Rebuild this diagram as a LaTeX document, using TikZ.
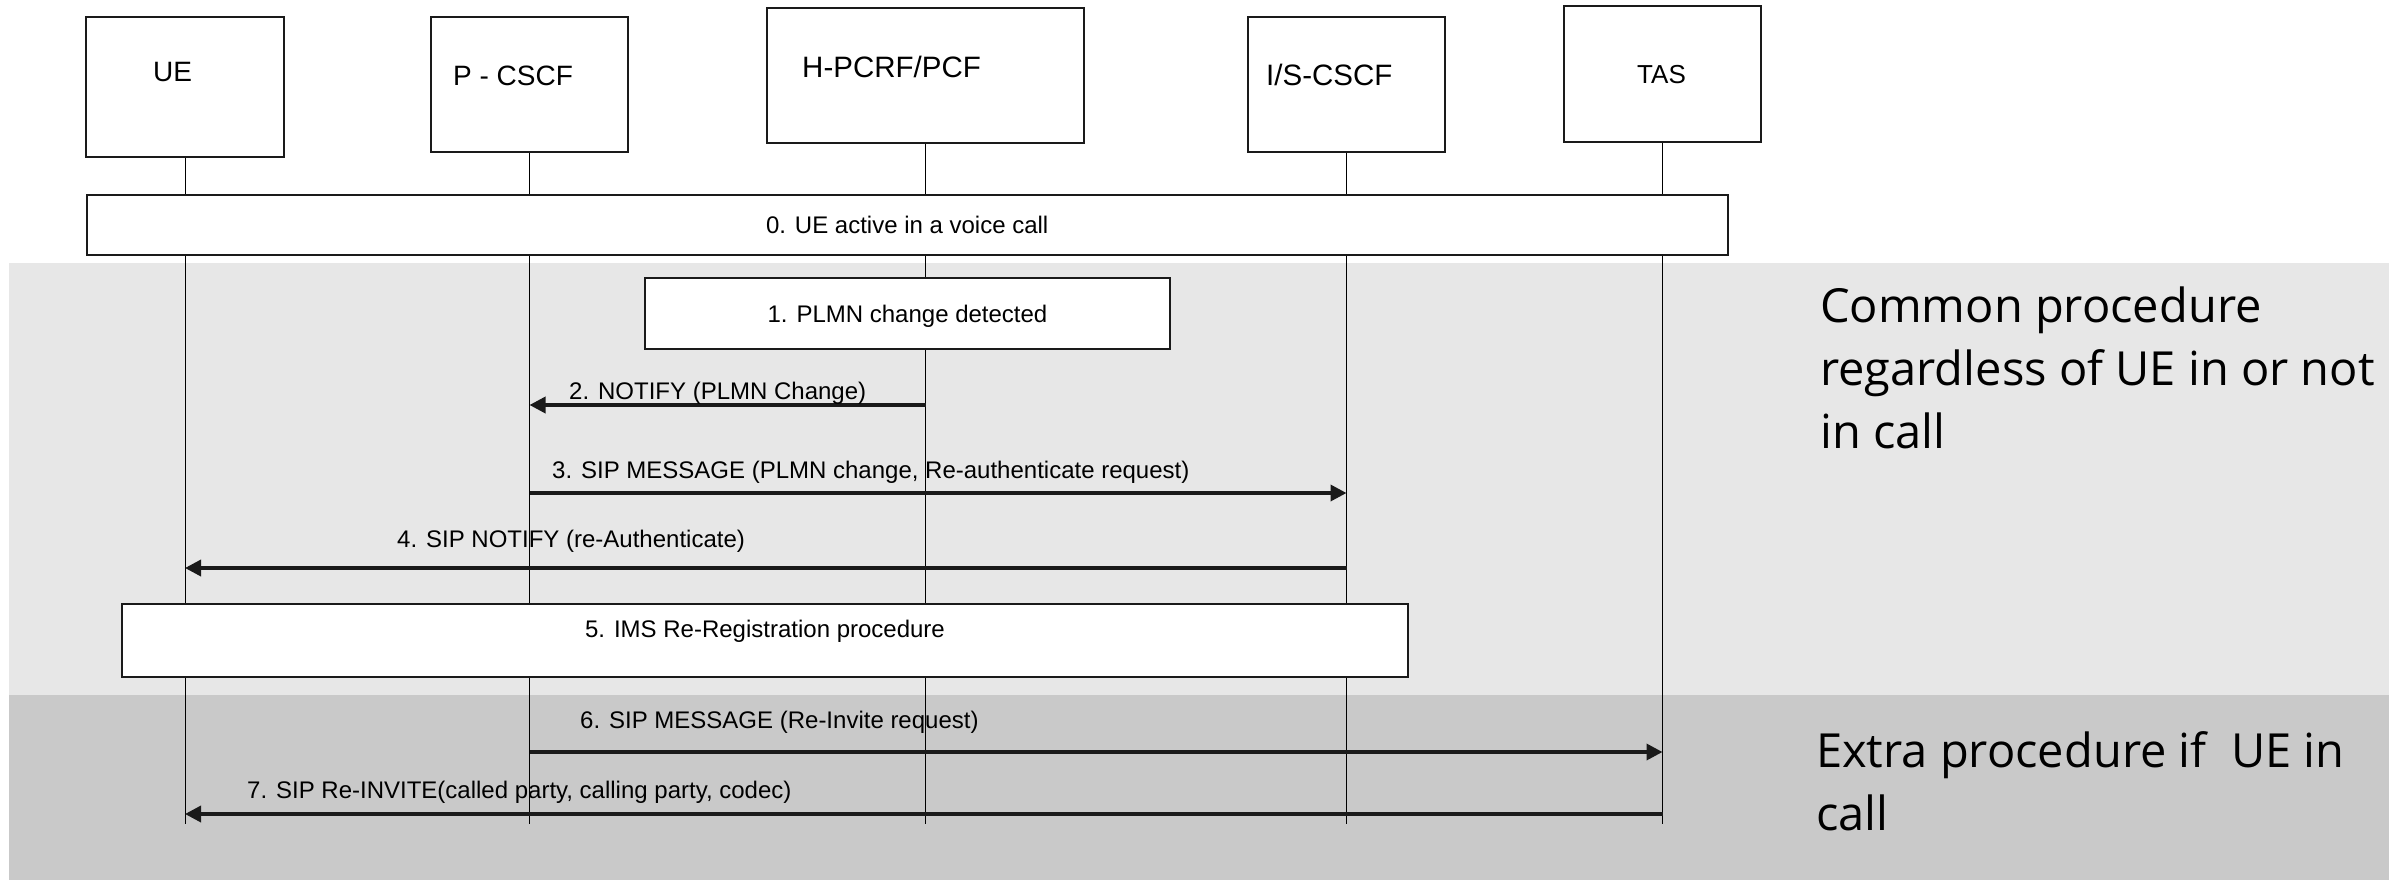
\documentclass[tikz,border=0pt]{standalone}
\usepackage{fontspec}
\setmainfont{Liberation Sans}
\newfontfamily\sidefont{Open Sans}
\usetikzlibrary{arrows.meta}
\definecolor{bandlight}{HTML}{E7E7E7}
\definecolor{banddark}{HTML}{C9C9C9}
\definecolor{ink}{HTML}{1A1A1A}
\begin{document}
\begin{tikzpicture}[x=1pt,y=-1pt,
  hdr/.style={draw=ink, line width=1.5pt, fill=white, inner sep=0pt},
  hdrtxt/.style={anchor=base west, inner sep=0pt, font=\fontsize{28}{32}\selectfont},
  stepbox/.style={draw=ink, line width=2pt, fill=white, inner sep=0pt,
    font=\fontsize{24}{28}\selectfont, text height=17.5pt, text depth=0pt},
  lifeline/.style={draw=black, line width=1pt},
  msg/.style={draw=ink, line width=3.5pt, -{Triangle[length=16pt,width=16pt]}},
  lbl/.style={anchor=base west, inner sep=0pt, font=\fontsize{24}{28}\selectfont},
  side/.style={anchor=base west, inner sep=0pt, align=left,
    font=\sidefont\fontsize{47}{63}\selectfont}
]
\useasboundingbox (0,0) rectangle (2405,881);
% background bands
\fill[bandlight] (9,263) rectangle (2389,695);
\fill[banddark] (9,695) rectangle (2389,880);

% participants
\node[hdr, minimum width=198pt, minimum height=140pt] (ue)  at (185,87)    {};
\node[hdr, minimum width=197pt, minimum height=135pt] (pc)  at (529.5,84.5) {};
\node[hdr, minimum width=317pt, minimum height=135pt] (hp)  at (925.5,75.5) {};
\node[hdr, minimum width=197pt, minimum height=135pt] (is)  at (1346.5,84.5) {};
\node[hdr, minimum width=197pt, minimum height=136pt] (tas) at (1662.5,74)  {};

\node[hdrtxt] (uet)  at (153,81)  {UE};
\node[hdrtxt] (pct)  at (453,85)  {P - CSCF};
\node[hdrtxt, font=\fontsize{29.5}{33}\selectfont] (hpt)  at (802,77)  {H-PCRF/PCF};
\node[hdrtxt, font=\fontsize{29.5}{33}\selectfont] (ist)  at (1266,85) {I/S-CSCF};
\node[hdrtxt, font=\fontsize{26}{30}\selectfont] (tast) at (1637,83) {TAS};

% lifelines
\coordinate (bot) at (0,824);
\foreach \p in {ue,pc,hp,is,tas}
  \draw[lifeline] (\p.south) -- (\p.south |- bot);

% step boxes
\node[stepbox, minimum width=1641pt, minimum height=60pt] (s0) at (907.2,224.5) {0. UE active in a voice call};
\node[stepbox, minimum width=525pt, minimum height=71pt] (s1) at (907.5,313.5) {1. PLMN change detected};
\node[stepbox, minimum width=1286pt, minimum height=73pt] (s5) at (765,640.5) {};
\node[lbl, anchor=base] (s5t) at (765,637) {5. IMS Re-Registration procedure};

% messages
\coordinate (m2) at (0,405);
\coordinate (m3) at (0,493);
\coordinate (m4) at (0,568);
\coordinate (m6) at (0,752);
\coordinate (m7) at (0,814);
\draw[msg] (hp.south |- m2) -- (pc.south |- m2);
\draw[msg] (pc.south |- m3) -- (is.south |- m3);
\draw[msg] (is.south |- m4) -- (ue.south |- m4);
\draw[msg] (pc.south |- m6) -- (tas.south |- m6);
\draw[msg] (tas.south |- m7) -- (ue.south |- m7);

\node[lbl] (l2) at (569,399) {2. NOTIFY (PLMN Change)};
\node[lbl] (l3) at (552,478) {3. SIP MESSAGE (PLMN change, Re-authenticate request)};
\node[lbl] (l4) at (397,547) {4. SIP NOTIFY (re-Authenticate)};
\node[lbl] (l6) at (580,728) {6. SIP MESSAGE (Re-Invite request)};
\node[lbl] (l7) at (247,798) {7. SIP Re-INVITE(called party, calling party, codec)};

% side notes (base anchor = last line's baseline)
\node[side] (common) at (1820,448) {Common procedure\\regardless of UE in or not\\in call};
\node[side] (extra) at (1816,830) {Extra procedure if\ \ UE in\\call};
\end{tikzpicture}
\end{document}
